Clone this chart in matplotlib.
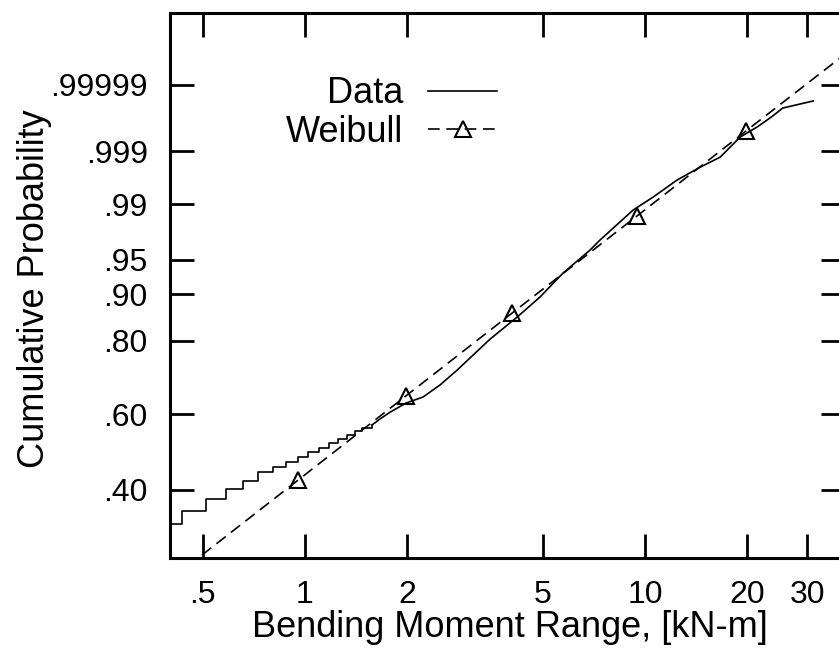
import numpy as np
import matplotlib
matplotlib.use("Agg")
import matplotlib.pyplot as plt

plt.rcParams["font.family"] = ["Liberation Sans", "DejaVu Sans"]

# measured data: stepped lower tail (empirical CDF)
step_x = [0.401, 0.435, 0.512, 0.586, 0.657, 0.727, 0.805, 0.879, 0.954,
          1.020, 1.099, 1.177, 1.250, 1.329, 1.403, 1.471, 1.574]
step_p = [0.325, 0.352, 0.379, 0.402, 0.421, 0.443, 0.456, 0.469, 0.482,
          0.495, 0.506, 0.519, 0.530, 0.542, 0.553, 0.561, 0.569]

# measured data: smooth upper part
curve_x = [1.574, 1.662, 1.778, 1.982, 2.224, 2.495, 2.80, 3.50, 4.205, 4.91,
           5.74, 6.89, 7.37, 9.22, 10.56, 12.42, 14.52, 16.62, 19.02, 21.35,
           23.6, 25.4, 31.2]
curve_p = [0.569, 0.586, 0.605, 0.631, 0.648, 0.682, 0.723, 0.804, 0.855, 0.895,
           0.9335, 0.9606, 0.9696, 0.9877, 0.99226, 0.99608, 0.99780, 0.99865,
           0.99955, 0.99976, 0.99988, 0.999935, 0.999962]

# Weibull fit (line ends + marked points)
weib_x = [0.498, 0.954, 1.98, 4.06, 9.47, 19.8, 40.0]
weib_p = [0.2664, 0.4236, 0.651, 0.8633, 0.98507, 0.999691, 0.9999997]

x_ticks = [0.5, 1, 2, 5, 10, 20, 30]
x_labels = [".5", "1", "2", "5", "10", "20", "30"]
y_ticks = [0.40, 0.60, 0.80, 0.90, 0.95, 0.99, 0.999, 0.99999]
y_labels = [".40", ".60", ".80", ".90", ".95", ".99", ".999", ".99999"]


def weib_fwd(p):
    p = np.clip(np.asarray(p, dtype=float), 1e-12, 1 - 1e-15)
    return np.log(-np.log1p(-p))


def weib_inv(t):
    return -np.expm1(-np.exp(t))


fig = plt.figure(figsize=(8.39, 6.49), dpi=100)
ax = fig.add_axes([170 / 839, 1 - 558 / 649, 675 / 839, 545 / 649])

ax.set_xscale("log")
ax.set_yscale("function", functions=(weib_fwd, weib_inv))

ax.plot(step_x, step_p, color="black", lw=1.2, drawstyle="steps-post")
ax.plot(curve_x, curve_p, color="black", lw=1.2, label="Data")
ax.plot(weib_x, weib_p, color="black", lw=1.2, dashes=(7, 4),
        marker="^", markersize=12, markerfacecolor="none",
        markeredgewidth=1.5, markevery=slice(1, 6), label="Weibull")

ax.set_xlim(0.401, 38.7)
ax.set_ylim(weib_inv(-1.195), weib_inv(2.997))

ax.set_xticks(x_ticks)
ax.set_xticklabels(x_labels)
ax.set_yticks(y_ticks)
ax.set_yticklabels(y_labels)
ax.xaxis.set_minor_locator(matplotlib.ticker.NullLocator())
ax.yaxis.set_minor_locator(matplotlib.ticker.NullLocator())

ax.tick_params(direction="in", length=17, width=2, top=True, right=True,
               labelsize=23)
ax.tick_params(axis="x", pad=16)
ax.tick_params(axis="y", pad=16)
for s in ax.spines.values():
    s.set_linewidth(2.2)

ax.set_xlabel("Bending Moment Range, [kN-m]", fontsize=26)
ax.set_ylabel("Cumulative Probability", fontsize=26)
ax.xaxis.set_label_coords(0.503, -0.096)
ax.yaxis.set_label_coords(-0.175, 0.495)

ax.legend(loc="upper right", bbox_to_anchor=(0.4844, 0.884), frameon=False,
          markerfirst=False, fontsize=26, handlelength=1.9, handletextpad=0.7,
          labelspacing=0.1, borderpad=0, borderaxespad=0, numpoints=1)

fig.savefig("out.png", dpi=100)
